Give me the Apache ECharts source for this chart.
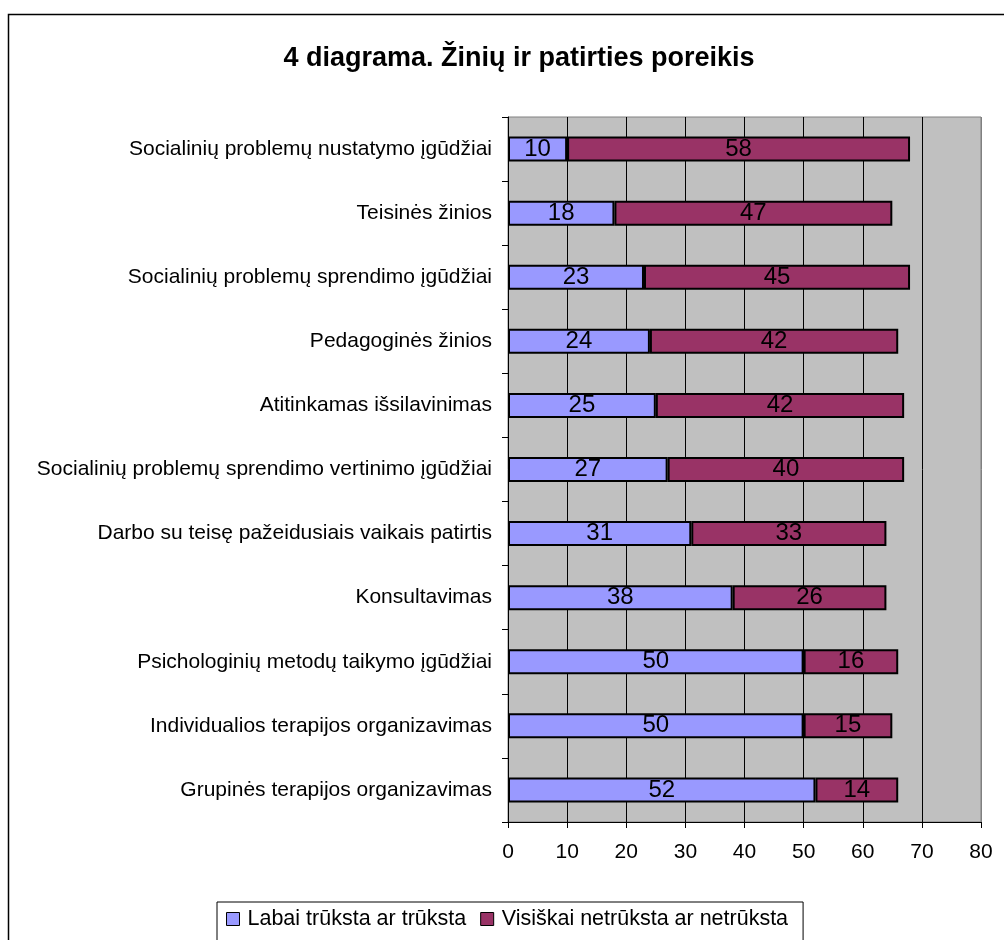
<!DOCTYPE html>
<html>
<head>
<meta charset="utf-8">
<script src="https://cdn.jsdelivr.net/npm/echarts@6/dist/echarts.min.js"></script>
<style>
  html, body { margin: 0; padding: 0; background: #fff; }
  #chart { width: 1004px; height: 940px; }
</style>
</head>
<body>
<div id="chart"></div>
<script>
// duomenys (iš viršaus į apačią)
var categories = [
  'Socialinių problemų nustatymo įgūdžiai',
  'Teisinės žinios',
  'Socialinių problemų sprendimo įgūdžiai',
  'Pedagoginės žinios',
  'Atitinkamas išsilavinimas',
  'Socialinių problemų sprendimo vertinimo įgūdžiai',
  'Darbo su teisę pažeidusiais vaikais patirtis',
  'Konsultavimas',
  'Psichologinių metodų taikymo įgūdžiai',
  'Individualios terapijos organizavimas',
  'Grupinės terapijos organizavimas'
]
var lacking = [10, 18, 23, 24, 25, 27, 31, 38, 50, 50, 52]
var notLacking = [58, 47, 45, 42, 42, 40, 33, 26, 16, 15, 14]
var seriesNames = ['Labai trūksta ar trūksta', 'Visiškai netrūksta ar netrūksta']

var font = 'Liberation Sans, Arial, sans-serif'
var chart = echarts.init(document.getElementById('chart'))

function barSeries(name, data, color) {
  return {
    name: name,
    type: 'bar',
    stack: 'total',
    barWidth: '39%',
    data: data,
    itemStyle: { color: color, borderColor: '#000', borderWidth: 2 },
    label: {
      show: true,
      position: 'inside',
      color: '#000',
      fontSize: 24,
      fontFamily: font
    }
  }
}

chart.setOption({
  animation: false,
  title: {
    text: '4 diagrama. Žinių ir patirties poreikis',
    left: 514,
    top: 40,
    textAlign: 'center',
    textStyle: { fontSize: 27, fontWeight: 'bold', color: '#000', fontFamily: font }
  },
  graphic: [{
    type: 'rect',
    shape: { x: 8.5, y: 14.5, width: 1010, height: 1000 },
    style: { fill: 'none', stroke: '#000', lineWidth: 1.5 },
    silent: true
  }],
  legend: {
    data: seriesNames,
    left: 217,
    top: 902,
    icon: 'rect',
    itemWidth: 13,
    itemHeight: 13,
    itemGap: 14,
    padding: [6, 15, 40, 9],
    borderColor: '#000',
    borderWidth: 1,
    itemStyle: { borderColor: '#000', borderWidth: 1 },
    textStyle: { fontSize: 21.5, color: '#000', fontFamily: font, padding: [0, 0, 0, 3] }
  },
  grid: {
    left: 508,
    right: 23,
    top: 117,
    bottom: 118,
    show: true,
    backgroundColor: '#C0C0C0',
    borderColor: '#808080',
    borderWidth: 1
  },
  xAxis: {
    type: 'value',
    min: 0,
    max: 80,
    interval: 10,
    axisLine: { show: true, lineStyle: { color: '#000', width: 1 } },
    axisTick: { show: true, length: 6, lineStyle: { color: '#000' } },
    axisLabel: { color: '#000', fontSize: 21, margin: 20, fontFamily: font },
    splitLine: {
      show: true,
      lineStyle: { color: ['#000', '#000', '#000', '#000', '#000', '#000', '#000', '#000', '#808080'], width: 1 }
    }
  },
  yAxis: {
    type: 'category',
    inverse: true,
    data: categories,
    axisLine: { show: true, lineStyle: { color: '#000', width: 1 } },
    axisTick: { show: true, length: 6, alignWithLabel: false, lineStyle: { color: '#000' } },
    axisLabel: { color: '#000', fontSize: 21, margin: 16, fontFamily: font },
    splitLine: { show: false }
  },
  series: [
    barSeries(seriesNames[0], lacking, '#9999FF'),
    barSeries(seriesNames[1], notLacking, '#993366')
  ]
})
</script>
</body>
</html>
